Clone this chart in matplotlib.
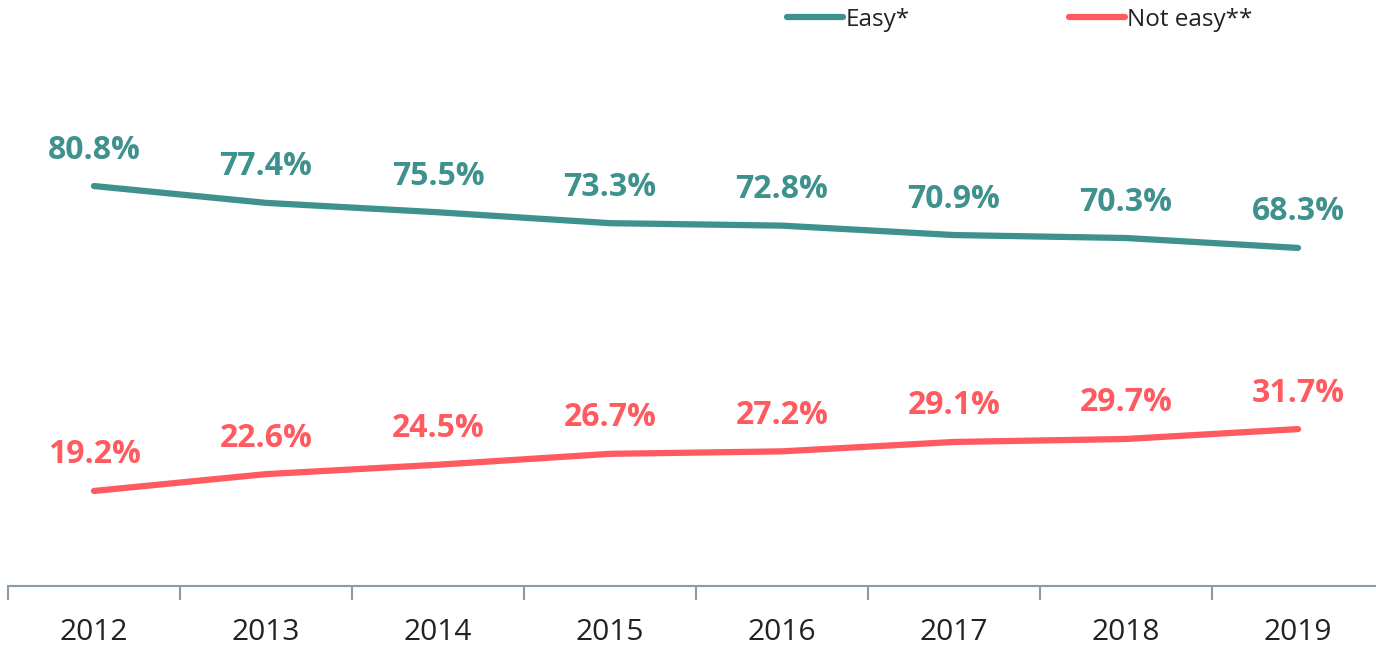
import matplotlib
matplotlib.use("Agg")
import matplotlib.pyplot as plt

years = ["2012", "2013", "2014", "2015", "2016", "2017", "2018", "2019"]
easy = [80.8, 77.4, 75.5, 73.3, 72.8, 70.9, 70.3, 68.3]
not_easy = [19.2, 22.6, 24.5, 26.7, 27.2, 29.1, 29.7, 31.7]
series_names = ["Easy*", "Not easy**"]

TEAL = "#3E918C"
RED = "#FF5A5F"
AXIS = "#8A9BAA"

plt.rcParams['font.family'] = ['Open Sans', 'DejaVu Sans']

fig = plt.figure(figsize=(13.76, 6.49), dpi=100)
W, H = 1376, 649
ax = fig.add_axes([8 / W, 63 / H, 1376 / W, 495 / H])
ax.set_xlim(-0.5, 7.5)
ax.set_ylim(0, 100)

x = list(range(len(years)))
for vals, col, name in [(easy, TEAL, series_names[0]), (not_easy, RED, series_names[1])]:
    ax.plot(x, vals, color=col, lw=4.5, solid_capstyle='round', label=name, clip_on=False)
    for xi, v in zip(x, vals):
        ax.annotate(f"{v:.1f}%", (xi, v), xytext=(0, 36), textcoords='offset pixels',
                    ha='center', va='center', fontsize=23, fontweight='bold', color=col)

for s in ['top', 'right', 'left']:
    ax.spines[s].set_visible(False)
ax.spines['bottom'].set_color(AXIS)
ax.spines['bottom'].set_linewidth(1.5)
ax.set_yticks([])
ax.set_xticks([i - 0.5 for i in range(len(years) + 1)])
ax.set_xticklabels([])
ax.set_xticks(x, minor=True)
ax.set_xticklabels(years, minor=True, fontsize=21.5, color="#222222")
ax.tick_params(axis='x', which='major', length=10, width=1.5, color=AXIS)
ax.tick_params(axis='x', which='minor', length=0, pad=23)

leg = ax.legend(ncol=2, loc='center', bbox_to_anchor=(1020 / W, 1 - 20 / H),
                bbox_transform=fig.transFigure, frameon=False, fontsize=17.5,
                handlelength=2.3, handletextpad=0.1, columnspacing=6.55,
                labelcolor='#222222')
for h in leg.get_lines():
    h.set_linewidth(4.5)

fig.savefig("out.png", dpi=100)
